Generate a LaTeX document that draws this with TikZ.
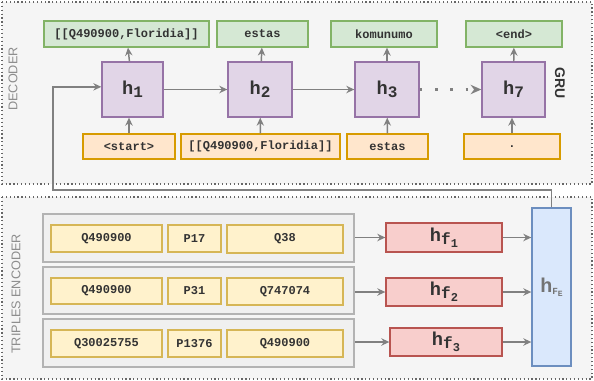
\documentclass[tikz,border=0pt]{standalone}
\usepackage{fontspec}
\setmainfont{Liberation Sans}
\setsansfont{Liberation Sans}
\setmonofont{Liberation Mono}
\usetikzlibrary{arrows.meta}
\definecolor{txt}{HTML}{333333}
\definecolor{frfill}{HTML}{F5F5F5}\definecolor{frgray}{HTML}{666666}
\definecolor{gfill}{HTML}{D5E8D4}\definecolor{gdraw}{HTML}{82B366}
\definecolor{pfill}{HTML}{E1D5E7}\definecolor{pdraw}{HTML}{9673A6}
\definecolor{ofill}{HTML}{FFE6CC}\definecolor{odraw}{HTML}{D79B00}
\definecolor{yfill}{HTML}{FFF2CC}\definecolor{ydraw}{HTML}{D6B656}
\definecolor{rfill}{HTML}{F8CECC}\definecolor{rdraw}{HTML}{B85450}
\definecolor{bfill}{HTML}{DAE8FC}\definecolor{bdraw}{HTML}{6C8EBF}
\definecolor{rowfill}{HTML}{F0F0F0}\definecolor{rowdraw}{HTML}{B3B3B3}
\definecolor{arrgray}{HTML}{808080}
\newcommand{\hcell}[1]{{\fontsize{14}{14}\selectfont h}\raisebox{-0.45ex}{\fontsize{12}{12}\selectfont #1}}
\newcommand{\hfeat}[1]{{\fontsize{14}{14}\selectfont h}\raisebox{-0.5ex}{\fontsize{12}{12}\selectfont f\raisebox{-0.35ex}{\fontsize{9}{9}\selectfont #1}}}
\tikzset{box/.style 2 args={draw, line width=1pt, inner sep=0pt, text=txt, minimum width=#1*0.75pt, minimum height=#2*0.75pt, font=\ttfamily\bfseries\fontsize{9}{9}\selectfont}}

\begin{document}
\begin{tikzpicture}[x=0.75pt, y=-0.75pt, >={Stealth[length=6pt,width=5.5pt]},
  panel/.style={draw=frgray, fill=frfill, dotted, line width=0.9pt},
  outbox/.style={draw=gdraw, fill=gfill}, cell/.style={draw=pdraw, fill=pfill}, inbox/.style={draw=odraw, fill=ofill},
  item/.style={draw=ydraw, fill=yfill}, row/.style={draw=rowdraw, fill=rowfill, line width=1.3pt}, feat/.style={draw=rdraw, fill=rfill},
  arr/.style={->, draw=arrgray, line width=1.1pt},
  side/.style={text=black!45, font=\sffamily\fontsize{9.5}{9.5}\selectfont}]
\useasboundingbox (0,0) rectangle (594,380);
\draw[panel] (2,2) rectangle (592,184);\draw[panel] (2,197) rectangle (592,379);
\node[side, rotate=90] (declab) at (13,79) {DECODER};\node[side, rotate=90] (enclab) at (16,294) {TRIPLES ENCODER};
\node[text=txt, rotate=-90, font=\sffamily\bfseries\fontsize{10.5}{10.5}\selectfont] (grulab) at (560,83) {GRU};
\node[box={165}{26}, outbox] (g1) at (126.5,34) {[[Q490900,Floridia]]};\node[box={91}{26}, outbox] (g2) at (262.5,34) {estas};
\node[box={106}{26}, outbox] (g3) at (384,34) {komunumo};\node[box={96}{26}, outbox] (g4) at (514,34) {<end>};
\node[box={61}{55}, cell] (h1) at (132.5,89.5) {\hcell{1}};\node[box={64}{55}, cell] (h2) at (260,89.5) {\hcell{2}};
\node[box={64}{55}, cell] (h3) at (387,89.5) {\hcell{3}};\node[box={63}{55}, cell] (h7) at (513.5,89.5) {\hcell{7}};
\node[box={92}{25}, inbox] (o1) at (129,146.5) {<start>};\node[box={159}{25}, inbox] (o2) at (260.5,146.5) {[[Q490900,Floridia]]};
\node[box={81}{25}, inbox] (o3) at (387.5,146.5) {estas};\node[box={96}{25}, inbox] (o4) at (512,146.5) {.};
\draw[arr] (h1) -- (h2);\draw[arr] (h2) -- (h3);
\draw[arr, line width=2pt, dash pattern=on 2pt off 9.5pt, arrows={->[length=8pt,width=7pt]}] (h3) -- (h7);
\draw[arr] (h1) -- (g1);\draw[arr] (h2) -- (g2);\draw[arr] (h3.north) -- (h3.north |- g3.south);\draw[arr] (h7) -- (g4);
\draw[arr] (o1.north) -- (o1.north |- h1.south);\draw[arr] (o2) -- (h2);\draw[arr] (o3) -- (h3);\draw[arr] (o4.north) -- (o4.north |- h7.south);
\node[box={311}{48}, row] (r1) at (198.5,238) {};\node[box={311}{47}, row] (r2) at (198.5,290.5) {};\node[box={311}{48}, row] (r3) at (198.5,343) {};
\node[box={111}{27}, item] (s1) at (106.5,238.5) {Q490900};\node[box={53}{27}, item] (p1) at (194.5,238.5) {P17};\node[box={116}{28}, item] (t1) at (285,239) {Q38};
\node[box={111}{26}, item] (s2) at (106.5,291) {Q490900};\node[box={53}{26}, item] (p2) at (194.5,291) {P31};\node[box={116}{27}, item] (t2) at (285,291.5) {Q747074};
\node[box={111}{27}, item] (s3) at (106.5,343.5) {Q30025755};\node[box={53}{27}, item] (p3) at (194.5,343.5) {P1376};\node[box={116}{27}, item] (t3) at (285,343.5) {Q490900};
\node[box={116}{29}, feat] (f1) at (444,237.5) {\hfeat{1}};\node[box={116}{28}, feat] (f2) at (444,292) {\hfeat{2}};\node[box={112}{28}, feat] (f3) at (446,342) {\hfeat{3}};
\node[box={39}{158}, draw=bdraw, fill=bfill, text=black!55] (fe) at (551.5,287) {{\fontsize{15}{15}\selectfont h}\raisebox{-0.3ex}{\fontsize{7}{7}\selectfont F\raisebox{-0.4ex}{\fontsize{6}{6}\selectfont E}}};
\draw[arr] (r1.east |- f1.west) -- (f1.west);\draw[arr] (r2.east |- f2.west) -- (f2.west);\draw[arr] (r3.east |- f3.west) -- (f3.west);
\draw[arr] (f1.east) -- (fe.west |- f1.east);\draw[arr] (f2.east) -- (fe.west |- f2.east);\draw[arr] (f3.east) -- (fe.west |- f3.east);
\coordinate (bend) at (53,190);
\draw[arr] (fe.north) |- (bend) |- ([yshift=2pt]h1.west);
\end{tikzpicture}
\end{document}
